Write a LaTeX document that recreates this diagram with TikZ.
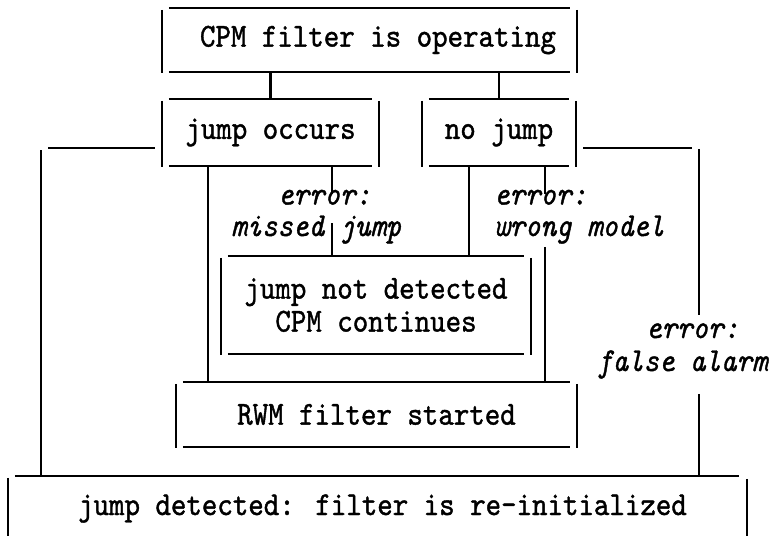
\documentclass[tikz,border=0pt]{standalone}
\usepackage{fontspec}
\newfontfamily\tw{lmmono10-regular.otf}[FakeBold=1.2,FakeStretch=0.88,ItalicFont=lmmono10-italic.otf]
\usetikzlibrary{calc}
\newcommand{\tbx}[1]{%
  \draw ($(#1.north west)+(7,0)$) -- ($(#1.north east)+(-7,0)$);
  \draw ($(#1.south west)+(7,0)$) -- ($(#1.south east)+(-7,0)$);
  \draw ($(#1.north west)+(0,2)$) -- ($(#1.south west)+(0,1)$);
  \draw ($(#1.north east)+(0,2)$) -- ($(#1.south east)+(0,1)$);}
\begin{document}
\begin{tikzpicture}[x=1pt,y=-1pt,line width=2.4pt,
  box/.style={draw=none,inner sep=0pt,align=center,
    font=\fontsize{33.5}{32}\selectfont\tw},
  lbl/.style={inner sep=0pt,anchor=base west,
    font=\fontsize{33.5}{30}\selectfont\tw\itshape}]
\useasboundingbox (0,0) rectangle (772,536);
% boxes
\node[box,minimum width=413pt,minimum height=62pt] (T) at (369.5,40) {\hspace*{17pt}CPM filter is operating};
\node[box,minimum width=215pt,minimum height=65pt] (J) at (270.5,132.5) {jump occurs};
\node[box,minimum width=152pt,minimum height=65pt] (N) at (499,132.5) {no jump};
\node[box,minimum width=308pt,minimum height=96pt] (D) at (376,305) {jump not detected\\[1pt]CPM continues};
\node[box,minimum width=399pt,minimum height=63pt] (R) at (376.5,414.5) {RWM filter started};
\node[box,minimum width=737pt,minimum height=63pt] (B) at (377.5,508.5) {\hspace*{10pt}jump detected: filter is re-initialized};
\tbx{T}\tbx{J}\tbx{N}\tbx{D}\tbx{R}
\draw ($(B.north west)+(7,0)$) -- ($(B.north east)+(-8,0)$);
\draw ($(B.north west)+(0,2)$) -- (B.south west);
\draw ($(B.north east)+(0,3)$) -- (B.south east);
% labels
\node[lbl] (emA) at (277,204.5) {error:};
\node[lbl] (emB) at (230,236) {missed jump};
\node[lbl] (ewA) at (493,204.5) {error:};
\node[lbl] (ewB) at (493,236) {wrong model};
\node[lbl] (efA) at (645,338) {error:};
\node[lbl] (efB) at (596,371) {false alarm};
% guide positions
\coordinate (xa) at (208,0);
\coordinate (xb) at (332,0);
\coordinate (xc) at (469,0);
\coordinate (xd) at (545,0);
\coordinate (xl) at (41,0);
\coordinate (xr) at (699,0);
\coordinate (yo) at (0,148);
% connectors
\draw (T.south -| J.north) -- (J.north);
\draw (T.south -| N.north) -- (N.north);
\draw (xa |- J.south) -- (xa |- R.north);
\draw (xb |- J.south) -- ($(xb |- emA.north)+(0,5)$);
\draw ($(xb |- emB.north)+(0,9)$) -- (xb |- D.north);
\draw (xc |- N.south) -- (xc |- D.north);
\draw (xd |- N.south) -- ($(xd |- ewA.north)+(0,5)$);
\draw ($(xd |- ewB.south)+(0,2)$) -- (xd |- R.north);
\draw ($(J.west |- yo)+(-7,0)$) -- ($(xl |- yo)+(7,0)$);
\draw ($(xl |- yo)+(0,2)$) -- (xl |- B.north);
\draw ($(N.east |- yo)+(7,0)$) -- ($(xr |- yo)+(-7,0)$);
\draw ($(xr |- yo)+(0,1)$) -- ($(xr |- efA.north)+(0,-7)$);
\draw ($(xr |- efB.south)+(0,14)$) -- (xr |- B.north);
\end{tikzpicture}
\end{document}
